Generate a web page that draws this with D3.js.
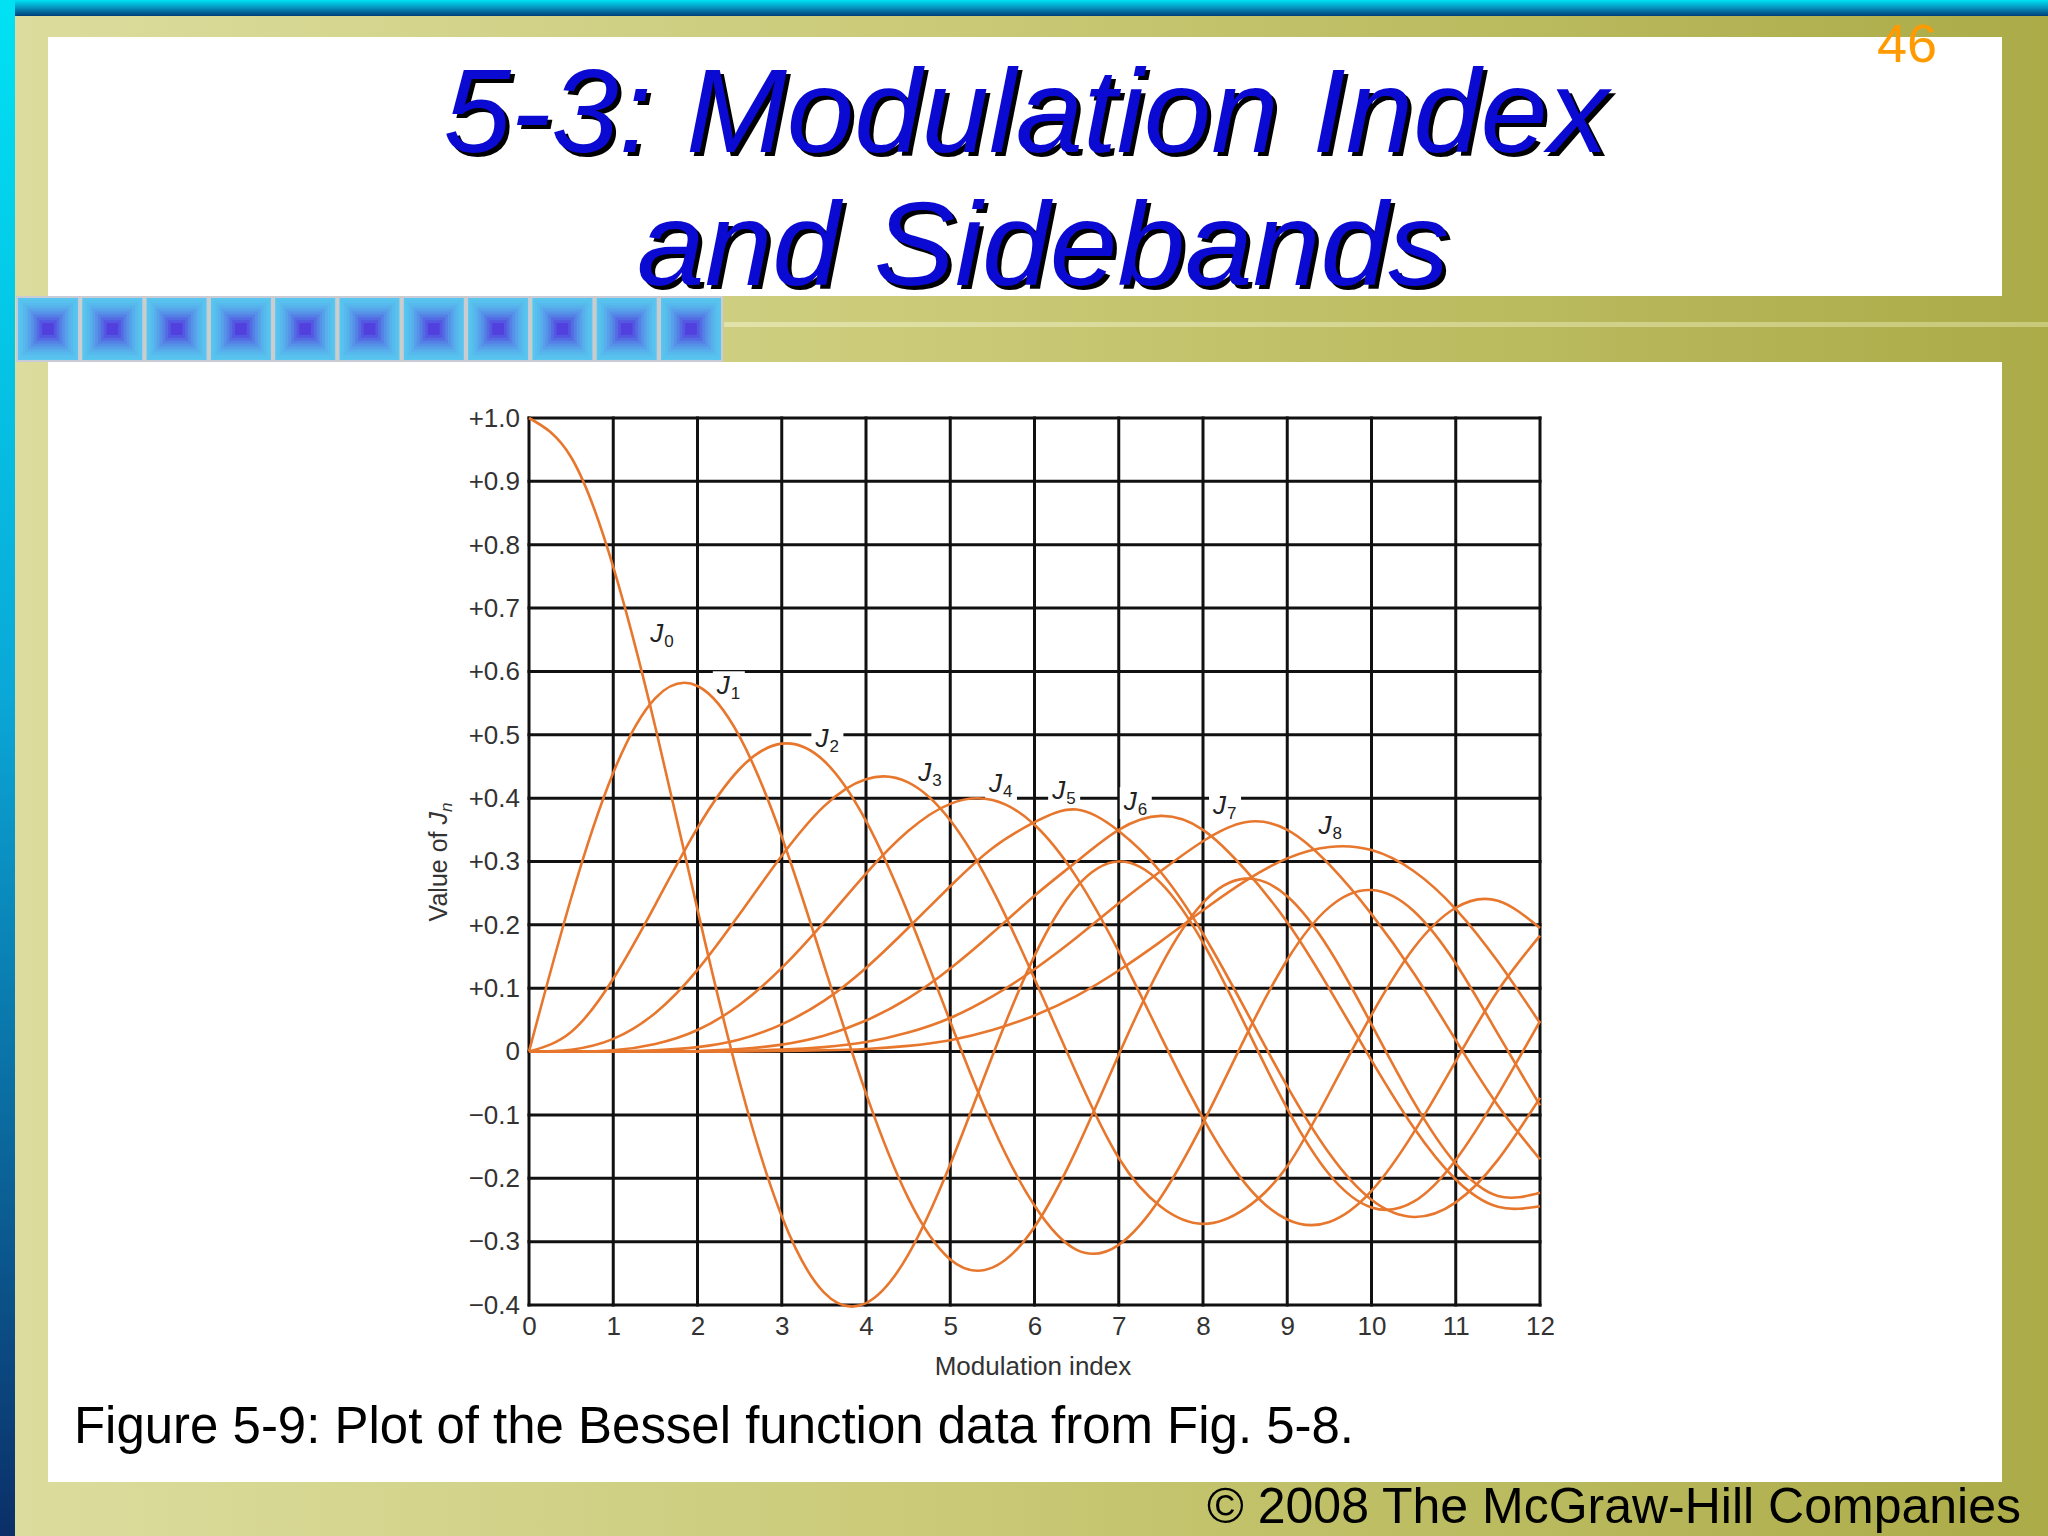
<!DOCTYPE html>
<html><head><meta charset="utf-8">
<script src="https://cdn.jsdelivr.net/npm/d3@7"></script>
<style>body{margin:0;background:#fff}svg{display:block}</style>
</head><body>
<script>
// ---------- data ----------
const modulationIndex = [0,0.5,1,1.5,2,2.5,3,3.5,4,4.5,5,5.5,6,6.5,7,7.5,8,8.5,9,9.5,10,10.5,11,11.5,12];
const J0 = [1.000,0.938,0.765,0.512,0.224,-0.048,-0.260,-0.380,-0.397,-0.321,-0.178,-0.007,0.151,0.260,0.300,0.266,0.172,0.042,-0.090,-0.194,-0.246,-0.237,-0.171,-0.068,0.048];
const J1 = [0,0.242,0.440,0.558,0.577,0.497,0.339,0.137,-0.066,-0.231,-0.328,-0.341,-0.277,-0.154,-0.005,0.135,0.235,0.273,0.245,0.161,0.043,-0.079,-0.177,-0.228,-0.223];
const J2 = [0,0.031,0.115,0.232,0.353,0.446,0.486,0.459,0.364,0.218,0.047,-0.117,-0.243,-0.313,-0.305,-0.230,-0.113,0.022,0.145,0.228,0.255,0.222,0.139,0.028,-0.085];
const J3 = [0,0.003,0.020,0.061,0.129,0.217,0.309,0.387,0.430,0.425,0.365,0.256,0.115,-0.035,-0.168,-0.245,-0.272,-0.248,-0.181,-0.065,0.058,0.163,0.227,0.238,0.195];
const J4 = [0,0.000,0.002,0.012,0.034,0.074,0.132,0.204,0.281,0.348,0.391,0.397,0.358,0.275,0.158,0.024,-0.105,-0.208,-0.265,-0.269,-0.220,-0.128,-0.015,0.096,0.183];
const J5 = [0,0,0.000,0.002,0.007,0.019,0.043,0.080,0.132,0.195,0.261,0.321,0.362,0.382,0.348,0.283,0.186,0.067,-0.055,-0.161,-0.234,-0.261,-0.238,-0.171,-0.073];
const J6 = [0,0,0,0.000,0.001,0.004,0.011,0.025,0.049,0.084,0.131,0.187,0.246,0.300,0.350,0.372,0.350,0.287,0.204,0.099,-0.014,-0.120,-0.202,-0.245,-0.244];
const J7 = [0,0,0,0,0.000,0.001,0.003,0.007,0.015,0.030,0.053,0.087,0.130,0.180,0.234,0.285,0.332,0.362,0.350,0.295,0.217,0.124,0.018,-0.085,-0.170];
const J8 = [0,0,0,0,0,0.000,0.001,0.002,0.004,0.009,0.018,0.034,0.057,0.088,0.128,0.174,0.223,0.269,0.305,0.323,0.318,0.285,0.225,0.142,0.045];
const seriesOrders = ["0","1","2","3","4","5","6","7","8"];
const seriesValues = [J0,J1,J2,J3,J4,J5,J6,J7,J8];
// curve label anchors (in data units)
const labelAtX = [1.57,2.36,3.53,4.75,5.59,6.34,7.19,8.25,9.50];
const labelAtY = [0.657,0.575,0.492,0.438,0.421,0.410,0.392,0.386,0.355];
const xTickValues = [0,1,2,3,4,5,6,7,8,9,10,11,12];
const xTickLabels = ["0","1","2","3","4","5","6","7","8","9","10","11","12"];
const yTickValues = [1.0,0.9,0.8,0.7,0.6,0.5,0.4,0.3,0.2,0.1,0,-0.1,-0.2,-0.3,-0.4];
const yTickLabels = ["+1.0","+0.9","+0.8","+0.7","+0.6","+0.5","+0.4","+0.3","+0.2","+0.1","0","\u22120.1","\u22120.2","\u22120.3","\u22120.4"];
const titleLines = ["5-3: Modulation Index","and Sidebands"];
const captionText = "Figure 5-9: Plot of the Bessel function data from Fig. 5-8.";
const copyrightText = "\u00A9 2008 The McGraw-Hill Companies";
const slideNumber = "46";

// ---------- page ----------
const W = 2048, H = 1536;
const FONT = "Liberation Sans, Arial, sans-serif";
const svg = d3.select("body").append("svg").attr("width", W).attr("height", H);
const defs = svg.append("defs");
function lin(id, x1, y1, x2, y2, stops) {
  const g = defs.append("linearGradient").attr("id", id)
    .attr("x1", x1).attr("y1", y1).attr("x2", x2).attr("y2", y2);
  stops.forEach(s => g.append("stop").attr("offset", s[0]).attr("stop-color", s[1]));
}
lin("olive", 0, 0, 1, 0, [[0, "#dcdd9e"], [0.5, "#c8c874"], [1, "#abab48"]]);
lin("leftbar", 0, 0, 0, 1, [[0, "#00e2f4"], [0.45, "#0aa8d8"], [1, "#0b2f68"]]);
lin("topbar", 0, 0, 0, 1, [[0, "#00e2f4"], [0.5, "#0590bc"], [1, "#003e78"]]);
lin("stripe", 0, 0, 1, 0, [[0, "#e2e3aa"], [1, "#c9c97a"]]);

svg.append("rect").attr("width", W).attr("height", H).attr("fill", "url(#olive)");
svg.append("rect").attr("x", 15).attr("y", 0).attr("width", W - 15).attr("height", 16).attr("fill", "url(#topbar)");
svg.append("rect").attr("x", 0).attr("y", 0).attr("width", 15).attr("height", H).attr("fill", "url(#leftbar)");
svg.append("rect").attr("x", 48).attr("y", 37).attr("width", 1954).attr("height", 259).attr("fill", "#fff");
svg.append("rect").attr("x", 48).attr("y", 362).attr("width", 1954).attr("height", 1120).attr("fill", "#fff");
svg.append("rect").attr("x", 724).attr("y", 322).attr("width", W - 724).attr("height", 5).attr("fill", "url(#stripe)");

// decorative squares
const sqInterp = d3.interpolateRgb("#58c6ee", "#5240de");
for (let i = 0; i < 11; i++) {
  const x0 = 17 + i * 64.3, y0 = 297, w = 62, h = 64;
  svg.append("rect").attr("x", x0).attr("y", y0).attr("width", w).attr("height", h)
    .attr("fill", "#58c6ee").attr("stroke", "#c9ccd6").attr("stroke-width", 2);
  const n = 10;
  for (let k = 1; k < n; k++) {
    const ix = (w / 2 - 3) * k / n, iy = (h / 2 - 3) * k / n;
    svg.append("rect").attr("x", x0 + ix).attr("y", y0 + iy)
      .attr("width", w - 2 * ix).attr("height", h - 2 * iy)
      .attr("fill", sqInterp(Math.pow(k / (n - 1), 1.6)));
  }
}

// title
titleLines.forEach((t, i) => {
  const cx = i === 0 ? 1026 : 1043, by = i === 0 ? 152 : 285, len = i === 0 ? 1165 : 812;
  [["#000", 4, 4], ["#0a0ad2", 0, 0]].forEach(([c, dx, dy]) => {
    svg.append("text").attr("x", cx + dx).attr("y", by + dy)
      .attr("text-anchor", "middle").attr("font-family", FONT)
      .attr("font-style", "italic").attr("font-size", 118).attr("fill", c)
      .attr("textLength", len).attr("lengthAdjust", "spacingAndGlyphs").text(t);
  });
});
svg.append("text").attr("x", 1877).attr("y", 62).attr("font-family", FONT)
  .attr("font-size", 54).attr("fill", "#ff9a00").text(slideNumber);

// ---------- chart ----------
const x = d3.scaleLinear().domain([0, 12]).range([529, 1540]);
const y = d3.scaleLinear().domain([-0.4, 1.0]).range([1305, 418]);
const chart = svg.append("g");

// grid
chart.append("g").selectAll("line").data(xTickValues).join("line")
  .attr("x1", d => x(d)).attr("x2", d => x(d)).attr("y1", y(1.0) - 1.5).attr("y2", y(-0.4) + 1.5)
  .attr("stroke", "#111").attr("stroke-width", 3);
chart.append("g").selectAll("line").data(yTickValues).join("line")
  .attr("y1", d => y(d)).attr("y2", d => y(d)).attr("x1", x(0) - 1.5).attr("x2", x(12) + 1.5)
  .attr("stroke", "#111").attr("stroke-width", 3);

// label backgrounds (break the grid lines)
chart.append("g").selectAll("rect").data(seriesOrders).join("rect")
  .attr("x", (d, i) => x(labelAtX[i]) - 15).attr("y", (d, i) => y(labelAtY[i]) - 16)
  .attr("width", 32).attr("height", 32).attr("fill", "#fff");

// curves
const line = d3.line().x((d, i) => x(modulationIndex[i])).y(d => y(d)).curve(d3.curveNatural);
chart.append("g").selectAll("path").data(seriesValues).join("path")
  .attr("d", line).attr("fill", "none").attr("stroke", "#e8772e").attr("stroke-width", 2.6)
  .attr("stroke-linejoin", "round");

// curve labels
const lab = chart.append("g").selectAll("text").data(seriesOrders).join("text")
  .attr("x", (d, i) => x(labelAtX[i]) - 11).attr("y", (d, i) => y(labelAtY[i]) + 7)
  .attr("font-family", FONT).attr("font-size", 26).attr("fill", "#222");
lab.append("tspan").attr("font-style", "italic").text("J");
lab.append("tspan").attr("font-size", 17).attr("dy", 5).attr("dx", 1).text(d => d);

// axes
const yAxis = d3.axisLeft(y).tickValues(yTickValues).tickFormat((d, i) => yTickLabels[i]).tickSize(0).tickPadding(9);
const xAxis = d3.axisBottom(x).tickValues(xTickValues).tickFormat((d, i) => xTickLabels[i]).tickSize(0).tickPadding(12);
const gy = chart.append("g").attr("transform", `translate(${x(0)},0)`).call(yAxis);
const gx = chart.append("g").attr("transform", `translate(0,${y(-0.4)})`).call(xAxis);
[gx, gy].forEach(g => {
  g.select(".domain").remove();
  g.selectAll("text").attr("font-family", FONT).attr("font-size", 26).attr("fill", "#333");
});

chart.append("text").attr("x", 1033).attr("y", 1375).attr("text-anchor", "middle")
  .attr("font-family", FONT).attr("font-size", 26).attr("fill", "#333")
  .text("Modulation index");
const yt = chart.append("text").attr("transform", "translate(447,862) rotate(-90)").attr("text-anchor", "middle")
  .attr("font-family", FONT).attr("font-size", 25).attr("fill", "#333");
yt.append("tspan").text("Value of ");
yt.append("tspan").attr("font-style", "italic").text("J");
yt.append("tspan").attr("font-style", "italic").attr("font-size", 17).attr("dy", 5).text("n");

// caption + copyright
svg.append("text").attr("x", 74).attr("y", 1443).attr("font-family", FONT)
  .attr("font-size", 51).attr("fill", "#000").attr("textLength", 1280).attr("lengthAdjust", "spacingAndGlyphs").text(captionText);
svg.append("text").attr("x", 2021).attr("y", 1523).attr("text-anchor", "end").attr("font-family", FONT)
  .attr("font-size", 50).attr("fill", "#000").text(copyrightText);
</script>
</body></html>
